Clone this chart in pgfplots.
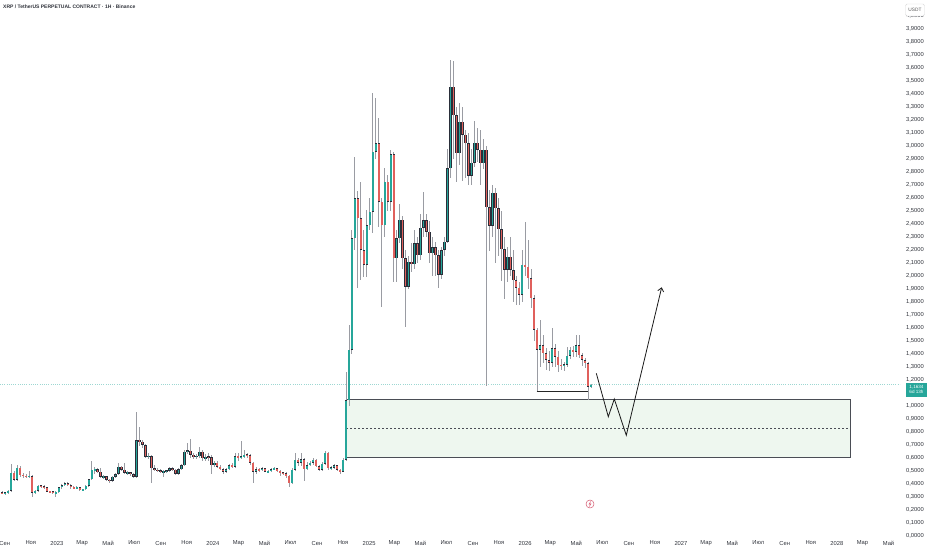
\documentclass[border=0pt]{standalone}
\usepackage{pgfplots}
\pgfplotsset{compat=1.18}
\usepackage{pgfplotstable}
\usepackage{fontspec}
\setmainfont{Liberation Sans}
\usetikzlibrary{arrows.meta}
\definecolor{upc}{HTML}{26A69A}
\definecolor{dnc}{HTML}{E0605C}
\definecolor{edgec}{HTML}{2A2E39}
\definecolor{wickc}{HTML}{9A9CA3}
\definecolor{boxfill}{HTML}{EEF7EF}
\definecolor{boxdraw}{HTML}{4A4D55}
\definecolor{labc}{HTML}{30333B}

\pgfplotstableread{
w o h l c
-1 0.335 0.345 0.320 0.328
0 0.328 0.340 0.318 0.332
1 0.332 0.352 0.325 0.349
2 0.349 0.551 0.340 0.487
3 0.487 0.500 0.420 0.431
4 0.431 0.546 0.420 0.526
5 0.526 0.535 0.455 0.469
6 0.469 0.482 0.450 0.462
7 0.462 0.475 0.445 0.456
8 0.456 0.500 0.445 0.460
9 0.460 0.470 0.300 0.333
10 0.333 0.355 0.320 0.349
11 0.349 0.392 0.335 0.385
12 0.385 0.395 0.370 0.380
13 0.380 0.390 0.365 0.375
14 0.375 0.380 0.335 0.341
15 0.341 0.350 0.330 0.340
16 0.340 0.348 0.322 0.333
17 0.333 0.345 0.297 0.336
18 0.336 0.378 0.330 0.374
19 0.374 0.400 0.365 0.392
20 0.392 0.415 0.385 0.405
21 0.405 0.412 0.385 0.392
22 0.392 0.398 0.365 0.374
23 0.374 0.382 0.362 0.371
24 0.371 0.383 0.362 0.374
25 0.374 0.378 0.345 0.354
26 0.354 0.365 0.345 0.358
27 0.358 0.390 0.352 0.385
28 0.385 0.440 0.380 0.436
29 0.436 0.577 0.430 0.508
30 0.508 0.530 0.480 0.512
31 0.512 0.525 0.488 0.495
32 0.495 0.520 0.445 0.456
33 0.456 0.470 0.440 0.458
34 0.458 0.462 0.425 0.431
35 0.431 0.440 0.410 0.423
36 0.423 0.460 0.418 0.456
37 0.456 0.485 0.450 0.477
38 0.477 0.559 0.470 0.533
39 0.533 0.540 0.500 0.508
40 0.508 0.559 0.480 0.487
41 0.487 0.500 0.470 0.489
42 0.489 0.495 0.465 0.477
43 0.477 0.485 0.450 0.456
44 0.456 0.956 0.450 0.738
45 0.738 0.841 0.690 0.726
46 0.726 0.735 0.680 0.700
47 0.700 0.710 0.600 0.610
48 0.610 0.640 0.590 0.615
49 0.615 0.625 0.405 0.521
50 0.521 0.545 0.500 0.508
51 0.508 0.520 0.490 0.503
52 0.503 0.515 0.485 0.495
53 0.495 0.505 0.456 0.497
54 0.497 0.510 0.485 0.503
55 0.503 0.530 0.495 0.521
56 0.521 0.530 0.500 0.508
57 0.508 0.515 0.470 0.477
58 0.477 0.520 0.470 0.513
59 0.513 0.555 0.505 0.546
60 0.546 0.660 0.540 0.649
61 0.649 0.718 0.630 0.655
62 0.655 0.744 0.600 0.623
63 0.623 0.640 0.590 0.610
64 0.610 0.630 0.590 0.615
65 0.615 0.687 0.600 0.649
66 0.649 0.660 0.580 0.597
67 0.597 0.630 0.580 0.608
68 0.608 0.640 0.580 0.605
69 0.605 0.620 0.480 0.546
70 0.546 0.580 0.530 0.564
71 0.564 0.575 0.525 0.533
72 0.533 0.545 0.505 0.513
73 0.513 0.520 0.480 0.495
74 0.495 0.520 0.488 0.513
75 0.513 0.555 0.505 0.546
76 0.546 0.560 0.525 0.533
77 0.533 0.640 0.520 0.615
78 0.615 0.640 0.580 0.605
79 0.605 0.733 0.590 0.610
80 0.610 0.660 0.600 0.623
81 0.623 0.640 0.600 0.620
82 0.620 0.630 0.550 0.564
83 0.564 0.570 0.410 0.495
84 0.495 0.530 0.480 0.513
85 0.513 0.520 0.490 0.508
86 0.508 0.530 0.500 0.520
87 0.520 0.525 0.490 0.495
88 0.495 0.505 0.485 0.497
89 0.497 0.520 0.490 0.513
90 0.513 0.530 0.505 0.520
91 0.520 0.525 0.495 0.503
92 0.503 0.510 0.460 0.487
93 0.487 0.495 0.470 0.482
94 0.482 0.490 0.450 0.462
95 0.462 0.470 0.379 0.405
96 0.405 0.520 0.400 0.508
97 0.508 0.636 0.500 0.585
98 0.585 0.600 0.540 0.564
99 0.564 0.640 0.540 0.590
100 0.590 0.600 0.426 0.513
101 0.513 0.570 0.505 0.546
102 0.546 0.580 0.535 0.564
103 0.564 0.600 0.550 0.585
104 0.585 0.590 0.530 0.538
105 0.538 0.545 0.500 0.508
106 0.508 0.570 0.500 0.556
107 0.556 0.656 0.550 0.641
108 0.641 0.645 0.510 0.521
109 0.521 0.540 0.510 0.525
110 0.525 0.555 0.515 0.546
111 0.546 0.550 0.500 0.508
112 0.508 0.515 0.480 0.495
113 0.495 0.600 0.490 0.585
114 0.585 1.264 0.580 1.046
115 1.046 1.623 1.000 1.431
116 1.431 2.354 1.400 2.290
117 2.290 2.913 2.200 2.597
118 2.597 2.650 1.905 2.444
119 2.444 2.726 1.970 2.200
120 2.200 2.350 1.995 2.085
121 2.085 2.508 1.995 2.392
122 2.392 2.600 2.350 2.495
123 2.495 3.405 2.330 2.956
124 2.956 3.367 2.900 3.020
125 3.020 3.213 2.380 2.572
126 2.572 2.600 1.764 2.392
127 2.392 2.828 2.300 2.726
128 2.726 2.780 2.500 2.572
129 2.572 2.970 2.500 2.938
130 2.938 2.950 1.956 2.136
131 2.136 2.350 1.950 2.290
132 2.290 2.550 2.250 2.431
133 2.431 2.460 2.050 2.136
134 2.136 2.200 1.610 1.918
135 1.918 2.150 1.900 2.110
136 2.110 2.250 2.030 2.090
137 2.090 2.350 2.050 2.250
138 2.250 2.300 2.100 2.160
139 2.160 2.480 2.120 2.370
140 2.370 2.649 2.300 2.430
141 2.430 2.480 2.300 2.341
142 2.341 2.420 2.100 2.174
143 2.174 2.300 2.000 2.220
144 2.220 2.260 2.000 2.160
145 2.160 2.200 1.905 2.008
146 2.008 2.220 1.980 2.200
147 2.200 2.300 2.150 2.264
148 2.264 2.980 2.250 2.828
149 2.828 3.660 2.750 3.456
150 3.456 3.650 2.900 3.238
151 3.238 3.300 2.720 2.944
152 2.944 3.330 2.850 3.187
153 3.187 3.300 2.730 3.085
154 3.085 3.120 2.750 3.020
155 3.020 3.100 2.700 2.770
156 2.770 2.980 2.700 2.870
157 2.870 3.190 2.840 3.026
158 3.026 3.140 2.880 2.970
159 2.970 3.120 2.700 2.867
160 2.867 3.050 2.820 2.970
161 2.970 3.000 1.150 2.528
162 2.528 2.660 2.190 2.385
163 2.385 2.700 2.300 2.641
164 2.641 2.680 2.100 2.520
165 2.520 2.600 2.150 2.360
166 2.360 2.500 1.960 2.205
167 2.205 2.300 1.820 2.046
168 2.046 2.220 1.950 2.149
169 2.149 2.300 2.000 2.046
170 2.046 2.200 1.800 1.969
171 1.969 2.000 1.777 1.910
172 1.910 1.950 1.780 1.854
173 1.854 2.200 1.800 2.085
174 2.085 2.418 2.000 2.070
175 2.070 2.280 1.900 1.982
176 1.982 2.050 1.750 1.828
177 1.828 1.850 1.500 1.585
178 1.585 1.600 1.110 1.431
179 1.431 1.660 1.300 1.469
180 1.469 1.550 1.330 1.405
181 1.405 1.450 1.280 1.354
182 1.354 1.420 1.270 1.333
183 1.333 1.600 1.300 1.444
184 1.444 1.480 1.300 1.380
185 1.380 1.420 1.260 1.315
186 1.315 1.360 1.280 1.310
187 1.310 1.340 1.270 1.318
188 1.318 1.450 1.300 1.385
189 1.385 1.450 1.360 1.431
190 1.431 1.460 1.380 1.418
191 1.418 1.546 1.380 1.469
192 1.469 1.546 1.370 1.392
193 1.392 1.410 1.310 1.354
194 1.354 1.370 1.290 1.328
195 1.328 1.340 1.046 1.149
196 1.149 1.170 1.140 1.163
}\candles

\pgfplotsset{candle/.style={only marks, mark=text, text mark={}, forget plot}}

\begin{document}
\begin{tikzpicture}
\useasboundingbox (0,0) rectangle (932pt,550pt);
\begin{axis}[
  at={(0pt,14pt)}, anchor=south west,
  scale only axis, width=900pt, height=536pt,
  xmin=-1.672, xmax=299.33, ymin=0, ymax=4.123,
  axis line style={draw=none},
  major tick length=0pt,
  ytick={0,0.1,0.2,0.3,0.4,0.5,0.6,0.7,0.8,0.9,1.0,1.2,1.3,1.4,1.5,1.6,1.7,1.8,1.9,2.0,2.1,2.2,2.3,2.4,2.5,2.6,2.7,2.8,2.9,3.0,3.1,3.2,3.3,3.4,3.5,3.6,3.7,3.8,3.9,4.0},
  yticklabel pos=right,
  yticklabel style={anchor=center, xshift=15pt, text=labc,
    font=\fontsize{5.8}{7}\selectfont,
    /pgf/number format/.cd, fixed, fixed zerofill, precision=4, use comma, assume math mode=true},
  xtick={-0.07,8.64,17.36,25.79,34.5,43.21,52.07,60.79,69.5,78.07,86.79,95.5,104.36,113.07,121.79,130.21,138.93,147.64,156.5,165.21,173.93,182.36,191.07,199.79,208.64,217.36,226.07,234.5,243.21,251.93,260.79,269.5,278.21,286.79,295.5},
  xticklabels={Сен,Ноя,2023,Мар,Май,Июл,Сен,Ноя,2024,Мар,Май,Июл,Сен,Ноя,2025,Мар,Май,Июл,Сен,Ноя,2026,Мар,Май,Июл,Сен,Ноя,2027,Мар,Май,Июл,Сен,Ноя,2028,Мар,Май},
  xticklabel style={anchor=center, yshift=-7pt, text=labc, font=\fontsize{5.8}{7}\selectfont},
]
% zone
\addplot[fill=boxfill, draw=boxdraw, line width=0.7pt, forget plot]
  coordinates {(114.2,0.608) (282.6,0.608) (282.6,1.048) (114.2,1.048)} -- cycle;
\addplot[draw=boxdraw, line width=0.6pt, dash pattern=on 2pt off 2pt, forget plot]
  coordinates {(114.2,0.828) (282.6,0.828)};
% current price line
\addplot[draw=upc!45, line width=0.6pt, dash pattern=on 1pt off 1.2pt, forget plot]
  coordinates {(-1.672,1.1634) (299.33,1.1634)};
% wicks
\addplot[candle,
  error bars/.cd, y dir=both, y explicit, error mark=none,
  error bar style={line width=0.7pt, draw=wickc}]
  table[x=w, y expr={(\thisrow{h}+\thisrow{l})/2}, y error expr={(\thisrow{h}-\thisrow{l})/2}] {\candles};
% bodies: outline
\addplot[candle,
  error bars/.cd, y dir=both, y explicit, error mark=none,
  error bar style={line width=2.4pt, draw=edgec}]
  table[x=w, y expr={(\thisrow{o}+\thisrow{c})/2}, y error expr={max(abs(\thisrow{c}-\thisrow{o})/2,0.006)}] {\candles};
% up bodies
\addplot[candle,
  restrict expr to domain={\thisrow{c}-\thisrow{o}}{0:10},
  error bars/.cd, y dir=both, y explicit, error mark=none,
  error bar style={line width=1.6pt, draw=upc}]
  table[x=w, y expr={(\thisrow{o}+\thisrow{c})/2}, y error expr={max(abs(\thisrow{c}-\thisrow{o})/2-0.004,0.003)}] {\candles};
% down bodies
\addplot[candle,
  restrict expr to domain={\thisrow{c}-\thisrow{o}}{-10:-0.0001},
  error bars/.cd, y dir=both, y explicit, error mark=none,
  error bar style={line width=1.6pt, draw=dnc}]
  table[x=w, y expr={(\thisrow{o}+\thisrow{c})/2}, y error expr={max(abs(\thisrow{c}-\thisrow{o})/2-0.004,0.003)}] {\candles};
% support line
\addplot[draw=black!85, line width=0.8pt, forget plot]
  coordinates {(177.8,1.110) (194.9,1.110)};
% projected path
\addplot[draw=black!90, line width=0.8pt, -{Straight Barb[length=3.5pt,width=6pt]}, forget plot]
  coordinates {(197.76,1.2515) (201.77,0.9177) (203.78,1.0538) (207.79,0.7746) (219.63,1.913)};
\end{axis}
% title
\node[anchor=west, inner sep=0pt, text=labc, font=\fontsize{5}{6}\selectfont\bfseries] at (3pt,543pt)
  {XRP / TetherUS PERPETUAL CONTRACT · 1H · Binance};
% currency box
\node[draw=black!15, fill=white, rounded corners=1.5pt, minimum width=19pt, minimum height=12pt,
  inner sep=0pt, text=black!65, font=\fontsize{4.8}{6}\selectfont] at (915pt,540pt) {USDT};
% last price label
\node[fill=upc, text=white, minimum width=21pt, minimum height=14pt, inner sep=0.5pt, align=center,
  font=\fontsize{4.6}{5.4}\selectfont] at (916.5pt,160.5pt) {1,1634\\6d 13h};
% event icon
\draw[draw={rgb,255:red,214;green,96;blue,118}, line width=0.55pt] (590pt,46pt) circle (4pt);
\draw[draw={rgb,255:red,214;green,96;blue,118}, line width=0.5pt, line join=round]
  (590.8pt,48.6pt) -- (588.9pt,45.7pt) -- (591.1pt,46.3pt) -- (589.2pt,43.4pt);
\end{tikzpicture}
\end{document}
